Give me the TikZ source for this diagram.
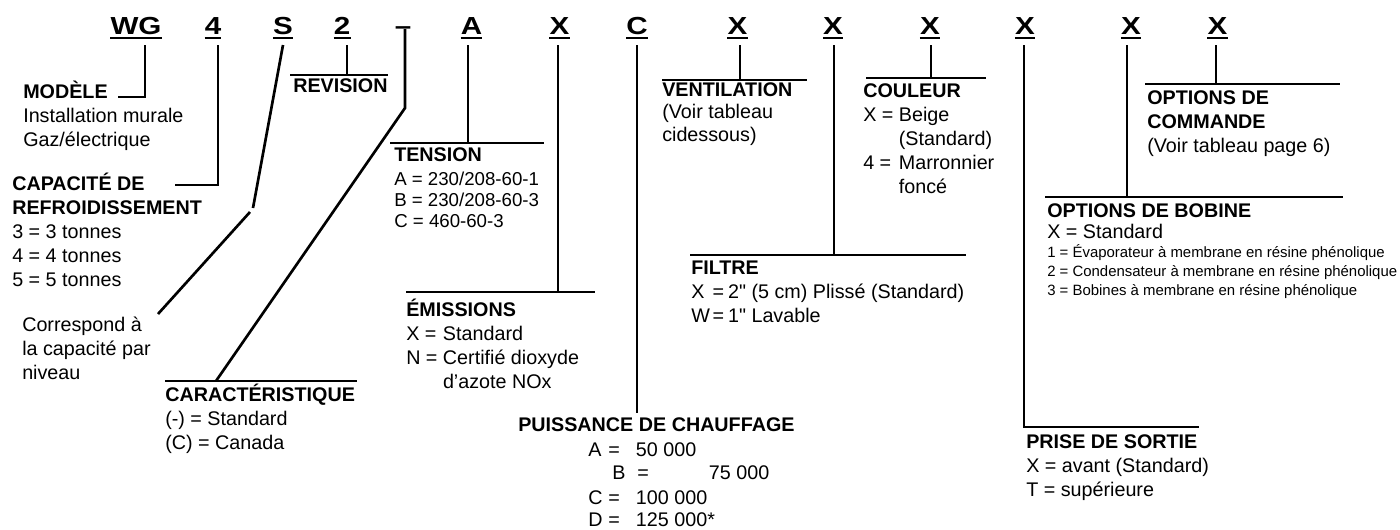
\documentclass[tikz,border=0pt]{standalone}
\usepackage{graphicx}
\usepackage{fontspec}
\setmainfont{Liberation Sans}[Ligatures=TeXOff]

\newcommand{\txtrows}[1]{\begin{tabular}[t]{@{}l@{}}#1\end{tabular}}
\newcommand{\codefont}{\fontsize{18.5}{20}\selectfont\bfseries}
\newcommand{\wide}[1]{\scalebox{1.2}[1]{#1}}

\begin{document}
\begin{tikzpicture}[x=0.75pt, y=-0.75pt,
  code/.style={font=\codefont, inner sep=0pt, anchor=base},
  lbl/.style={font=\fontsize{14.8}{#1}\selectfont, inner sep=0pt, anchor=base west},
  lbl/.default=18,
  wire/.style={line width=2pt},
  uline/.style={line width=1.5pt}]
  \useasboundingbox (0,0) rectangle (1400,529);

  \node[code] (wg) at (136,34) {\wide{WG}};
  \node[code] (cap) at (213,34) {\wide{4}};
  \node[code] (lvl) at (283,34) {\wide{S}};
  \node[code] (rev) at (342,34) {\wide{2}};
  \node[code] (dash) at (403,34) {\wide{–}};
  \node[code] (volt) at (471.5,34) {\wide{A}};
  \node[code] (emis) at (559.5,34) {\wide{X}};
  \node[code] (heat) at (637,34) {\wide{C}};
  \node[code] (vent) at (737.5,34) {\wide{X}};
  \node[code] (filt) at (833,34) {\wide{X}};
  \node[code] (col) at (930,34) {\wide{X}};
  \node[code] (outlet) at (1025,34) {\wide{X}};
  \node[code] (coil) at (1131,34) {\wide{X}};
  \node[code] (ctrl) at (1217.5,34) {\wide{X}};
  \foreach \n in {wg,cap,lvl,rev,volt,emis,heat,vent,filt,col,outlet,coil,ctrl}
    \draw[uline] ([yshift=-3pt]\n.base west) -- ([yshift=-3pt]\n.base east);

  \node[lbl] (modele) at (23,98) {\txtrows{\textbf{MODÈLE}\\Installation murale\\Gaz/électrique}};
  \node[lbl] (capacite) at (12,190) {\txtrows{\textbf{CAPACITÉ DE}\\\textbf{REFROIDISSEMENT}\\3 = 3 tonnes\\4 = 4 tonnes\\5 = 5 tonnes}};
  \node[lbl] (niveau) at (22,331) {\txtrows{Correspond à\\la capacité par\\niveau}};
  \node[lbl] (revision) at (293,92) {\textbf{REVISION}};
  \node[lbl] (caract) at (165,401) {\txtrows{\textbf{CARACTÉRISTIQUE}\\(-) = Standard\\(C) = Canada}};
  \node[lbl] (tension) at (394,161) {\textbf{TENSION}};
  \node[lbl, font=\fontsize{14}{16.1}\selectfont] (tensionv) at (394,185) {\txtrows{A = 230/208-60-1\\B = 230/208-60-3\\C = 460-60-3}};
  \node[lbl] (emission) at (406,316) {\begin{tabular}[t]{@{}l@{\ }l@{}}\multicolumn{2}{@{}l@{}}{\textbf{ÉMISSIONS}}\\X =&Standard\\N =&Certifié dioxyde\\&d’azote NOx\end{tabular}};
  \node[lbl] (puissance) at (518,431) {\textbf{PUISSANCE DE CHAUFFAGE}};
  \node[lbl] (heatA) at (588,456) {\makebox[15pt][l]{A}\makebox[20.8pt][l]{=}50 000};
  \node[lbl] (heatB) at (612,479) {\makebox[18.8pt][l]{B}\makebox[53.7pt][l]{=}75 000};
  \node[lbl] (heatC) at (588,504) {\makebox[15pt][l]{C}\makebox[20.8pt][l]{=}100 000};
  \node[lbl] (heatD) at (588,526) {\makebox[15pt][l]{D}\makebox[20.8pt][l]{=}125 000*};
  \node[lbl=17] (ventilation) at (662,96) {\txtrows{\textbf{VENTILATION}\\(Voir tableau\\cidessous)}};
  \node[lbl] (couleur) at (863,97) {\begin{tabular}[t]{@{}l@{\ }l@{}}\multicolumn{2}{@{}l@{}}{\textbf{COULEUR}}\\X =&Beige\\&(Standard)\\4 =&Marronnier\\&foncé\end{tabular}};
  \node[lbl] (filtre) at (691,274) {\begin{tabular}[t]{@{}l@{\hspace{2pt}}l@{}}\multicolumn{2}{@{}l@{}}{\textbf{FILTRE}}\\X&=\hspace{3pt}2" (5 cm) Plissé (Standard)\\W&=\hspace{3pt}1" Lavable\end{tabular}};
  \node[lbl] (prise) at (1026,448) {\txtrows{\textbf{PRISE DE SORTIE}\\X = avant (Standard)\\T = supérieure}};
  \node[lbl] (commande) at (1147,104) {\txtrows{\textbf{OPTIONS DE}\\\textbf{COMMANDE}\\(Voir tableau page 6)}};
  \node[lbl=15.75] (bobine) at (1047,217) {\txtrows{\textbf{OPTIONS DE BOBINE}\\X = Standard}};
  \node[lbl, font=\fontsize{11.2}{14.6}\selectfont] (bobinev) at (1047,257) {\txtrows{1 = Évaporateur à membrane en résine phénolique\\2 = Condensateur à membrane en résine phénolique\\3 = Bobines à membrane en résine phénolique}};

  \coordinate (modEnd) at (118,97);
  \coordinate (capEnd) at (175,185);
  \coordinate (lvlA) at (253,208);
  \coordinate (lvlB) at (250,212);
  \coordinate (lvlEnd) at (158,314);
  \coordinate (dashBend) at (405,108);
  \coordinate (heatEnd) at (637,413);
  \coordinate (revL) at (290,75);   \coordinate (revR) at (388,75);
  \coordinate (carL) at (165,381);  \coordinate (carR) at (357,381);
  \coordinate (tenL) at (390,143);  \coordinate (tenR) at (544,143);
  \coordinate (emiL) at (406,292);  \coordinate (emiR) at (595,292);
  \coordinate (venL) at (662,80);   \coordinate (venR) at (807,80);
  \coordinate (filL) at (690,255);  \coordinate (filR) at (966,255);
  \coordinate (couL) at (866,78);   \coordinate (couR) at (986,78);
  \coordinate (bobL) at (1045,197); \coordinate (bobR) at (1343,197);
  \coordinate (comL) at (1145,84);  \coordinate (comR) at (1340,84);
  \coordinate (priR) at (1199,427);
  \foreach \l/\r in {revL/revR,carL/carR,tenL/tenR,emiL/emiR,venL/venR,filL/filR,couL/couR,bobL/bobR,comL/comR}
    \draw[wire] (\l) -- (\r);

  \draw[wire] (wg.base) ++(9,11) |- (modEnd);
  \draw[wire] (cap.base) ++(5,11) |- (capEnd);
  \draw[wire] (lvl.base) ++(0,11) -- (lvlA);
  \draw[wire] (lvlB) -- (lvlEnd);
  \draw[wire] (rev.base) ++(5,11) |- (revL);
  \draw[wire] (dash.base) ++(2,-5) -- (dashBend) -- (carL -| 216,0);
  \draw[wire] (volt.base) ++(-3.5,11) |- (tenL);
  \draw[wire] (emis.base) ++(-1.5,11) |- (emiL);
  \draw[wire] (heat.base) ++(0,11) -- (heatEnd);
  \draw[wire] (vent.base) ++(2.5,11) |- (venL);
  \draw[wire] (filt.base) ++(1,11) |- (filL);
  \draw[wire] (col.base) ++(1,11) |- (couL);
  \draw[wire] (outlet.base) ++(-1,11) |- (priR);
  \draw[wire] (coil.base) ++(-4,11) |- (bobL);
  \draw[wire] (ctrl.base) ++(-1.5,11) |- (comL);
\end{tikzpicture}
\end{document}
